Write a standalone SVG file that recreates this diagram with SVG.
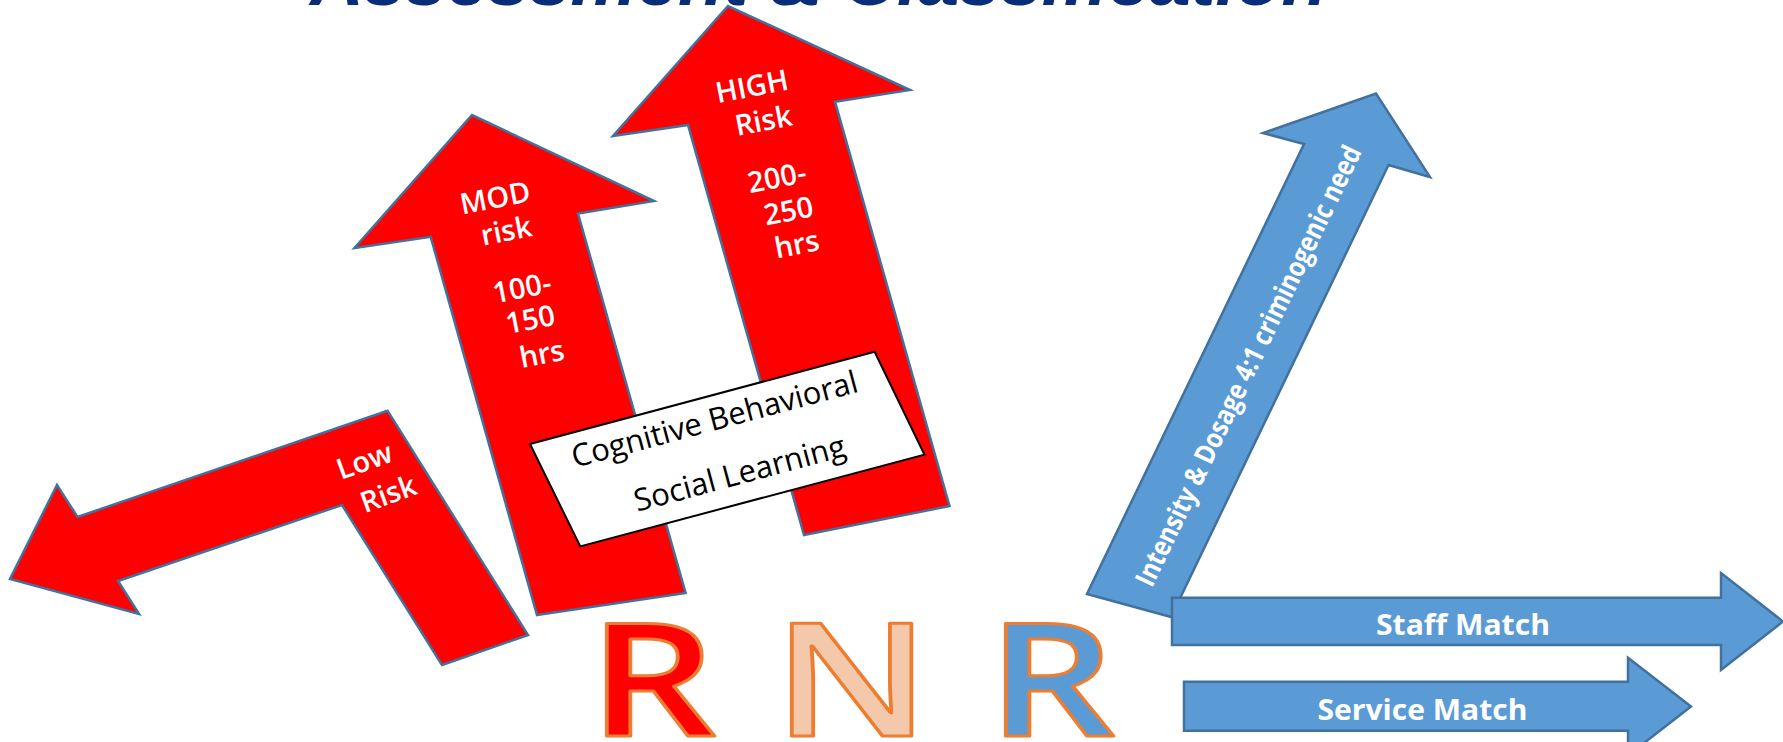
<svg xmlns="http://www.w3.org/2000/svg" width="1783" height="742" viewBox="0 0 1783 742">
  <style>
    .red { fill: #FF0000; stroke: #41719C; stroke-width: 2.5; stroke-linejoin: miter; }
    .blue { fill: #5B9BD5; stroke: #41719C; stroke-width: 2.5; stroke-linejoin: miter; }
    .lbl { font-family: "Open Sans", "Liberation Sans", sans-serif; font-weight: 600; font-size: 29px; fill: #FFFFFF; text-anchor: middle; }
    .lblb { font-family: "Open Sans", "Liberation Sans", sans-serif; font-weight: 700; font-size: 28px; fill: #FFFFFF; text-anchor: middle; }
    .box { fill: #FFFFFF; stroke: #000000; stroke-width: 2; }
    .boxtxt { font-family: "Open Sans", "Liberation Sans", sans-serif; font-size: 31px; fill: #000000; text-anchor: middle; }
    .big { font-family: "Open Sans", "Liberation Sans", sans-serif; font-weight: 600; font-size: 158px; stroke: #ED7D31; stroke-width: 3; stroke-linejoin: round; text-anchor: middle; }
    .title { font-family: "Liberation Sans", Arial, sans-serif; font-weight: 700; font-style: italic; font-size: 72px; fill: #0A2D78; }
  </style>

  <rect width="1783" height="742" fill="#FFFFFF"/>

  <!-- Heading, clipped by the top edge -->
  <text class="title" x="310" y="5" textLength="1017" lengthAdjust="spacingAndGlyphs">Assessment &amp; Classification</text>

  <!-- Low risk: bent arrow turning down-left -->
  <g id="low-risk">
    <polygon class="red" points="442,665 528,635 387.5,410.7 77.5,517 57,485 10,579 139,614 118,581 342,505"/>
    <text class="lbl" transform="translate(364,460) rotate(-20)" y="11">Low</text>
    <text class="lbl" transform="translate(388,493) rotate(-20)" y="11">Risk</text>
  </g>

  <!-- Moderate risk arrow -->
  <g id="mod-risk">
    <polygon class="red" points="537,615 685.6,593 578,213.6 654,201 472,115 354.5,248 430.7,236.8"/>
    <text class="lbl" transform="translate(495,197) rotate(-11)" y="11">MOD</text>
    <text class="lbl" transform="translate(506,230) rotate(-11)" y="11">risk</text>
    <text class="lbl" transform="translate(521.7,287) rotate(-11)" y="11">100-</text>
    <text class="lbl" transform="translate(530,318.5) rotate(-11)" y="11">150</text>
    <text class="lbl" transform="translate(541.7,353) rotate(-11)" y="11">hrs</text>
  </g>

  <!-- High risk arrow -->
  <g id="high-risk">
    <polygon class="red" points="804,535 949.5,506 835,101.7 910,90 728,6 613,136 688,125"/>
    <text class="lbl" transform="translate(751.7,85.5) rotate(-11)" y="11">HIGH</text>
    <text class="lbl" transform="translate(763.2,119.8) rotate(-11)" y="11">Risk</text>
    <text class="lbl" transform="translate(776.7,176.7) rotate(-11)" y="11">200-</text>
    <text class="lbl" transform="translate(788.3,210) rotate(-11)" y="11">250</text>
    <text class="lbl" transform="translate(796.7,243.3) rotate(-11)" y="11">hrs</text>
  </g>

  <!-- Treatment model label -->
  <g id="treatment-box">
    <polygon class="box" points="530,444 874.6,351.8 924.4,454.6 580.3,546.4"/>
    <text class="boxtxt" transform="translate(715,421) rotate(-15)" y="9">Cognitive Behavioral</text>
    <text class="boxtxt" transform="translate(740,475) rotate(-15)" y="9">Social Learning</text>
  </g>

  <!-- Responsivity arrows -->
  <g id="intensity">
    <polygon class="blue" points="1087,594 1171,617 1388.5,165 1430,177 1376,93.6 1263,133 1304,144"/>
    <text class="lblb" transform="translate(1249,366) rotate(-64.3)" y="9" font-size="26" textLength="485" lengthAdjust="spacingAndGlyphs">Intensity &amp; Dosage 4:1 criminogenic need</text>
  </g>

  <g id="staff-match">
    <polygon class="blue" points="1172,597.7 1721,597.7 1721,573 1783,621.5 1721,670 1721,645 1172,645"/>
    <text class="lblb" x="1463" y="634.5" textLength="174" lengthAdjust="spacingAndGlyphs">Staff Match</text>
  </g>

  <g id="service-match">
    <polygon class="blue" points="1184,681.7 1628,681.7 1628,657.7 1691,706.5 1628,755.5 1628,730.7 1184,730.7"/>
    <text class="lblb" x="1422.5" y="719.5" textLength="210" lengthAdjust="spacingAndGlyphs">Service Match</text>
  </g>

  <!-- R N R lettering -->
  <g id="rnr">
    <text class="big" fill="#FF0000" transform="translate(652,736) scale(1.27,1)">R</text>
    <text class="big" fill="#F4C8AA" transform="translate(851.5,736) scale(1.27,1)">N</text>
    <text class="big" fill="#5B9BD5" transform="translate(1051,736) scale(1.27,1)">R</text>
  </g>

  <!-- no connectors between nodes -->
  <g id="connectors"/>
</svg>
